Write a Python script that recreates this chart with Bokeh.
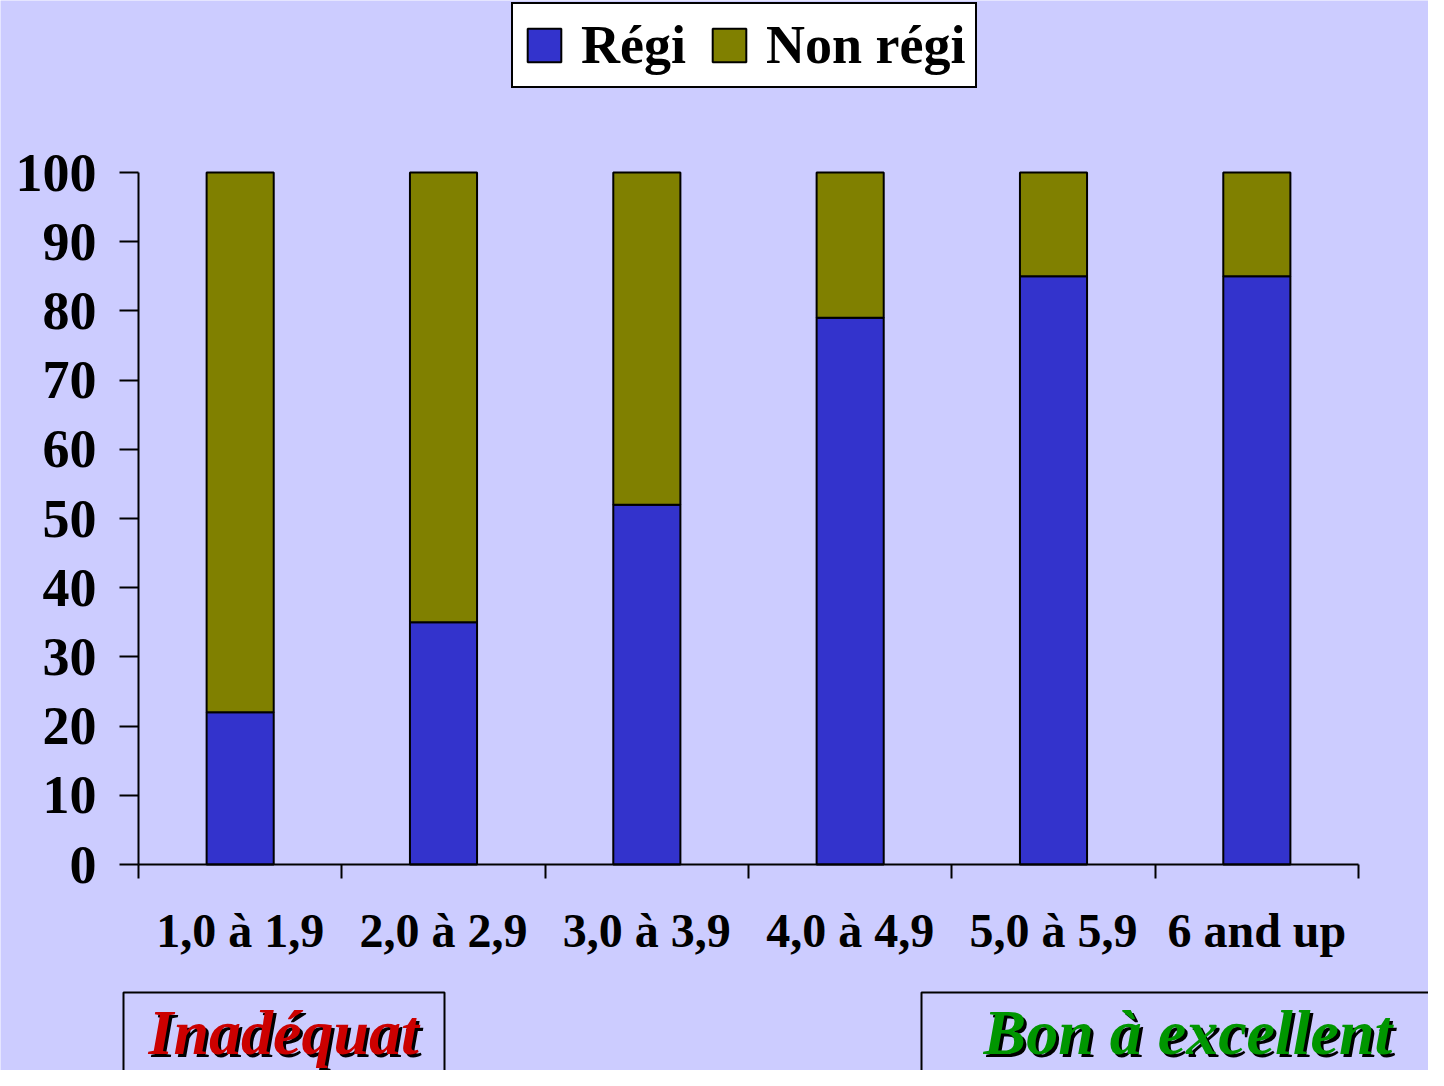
from bokeh.plotting import figure
from bokeh.models import (ColumnDataSource, Range1d, FixedTicker, Legend, LegendItem, Label)
from bokeh.embed import file_html
from bokeh.resources import INLINE

categories = ["1,0 à 1,9", "2,0 à 2,9", "3,0 à 3,9", "4,0 à 4,9", "5,0 à 5,9", "6 and up"]
regi = [22, 35, 52, 79, 85, 85]
non_regi = [78, 65, 48, 21, 15, 15]
series_names = ["Régi", "Non régi"]
y_ticks = [0, 10, 20, 30, 40, 50, 60, 70, 80, 90, 100]
box_texts = ["Inadéquat", "Bon à excellent"]

BG = "#CCCCFF"
BLUE = "#3333CC"
OLIVE = "#808000"
RED = "#CC0000"
GREEN = "#009600"
FONT = "Liberation Serif"

W, H = 1428, 1070
# pixel layout of the plotting area
PX_LEFT, PX_RIGHT, PX_TOP, PX_BOTTOM = 138, 1358, 172, 864

n = len(categories)
centers = [i + 0.5 for i in range(n)]
bounds = list(range(n + 1))

xu = (PX_RIGHT - PX_LEFT) / n
yu = (PX_BOTTOM - PX_TOP) / 100.0
x_range = Range1d(-PX_LEFT / xu, (W - PX_LEFT) / xu)
y_range = Range1d(-(H - PX_BOTTOM) / yu, PX_BOTTOM / yu)


def dx(px):
    return (px - PX_LEFT) / xu


def dy(py):
    return (PX_BOTTOM - py) / yu


source = ColumnDataSource(dict(x=centers, regi=regi, non_regi=non_regi))

p = figure(width=W, height=H, x_range=x_range, y_range=y_range,
           output_backend="svg", toolbar_location=None,
           min_border=0, min_border_left=0, min_border_right=0, min_border_top=0, min_border_bottom=0)
p.background_fill_color = BG
p.border_fill_color = BG
p.outline_line_color = None
p.xgrid.grid_line_color = None
p.ygrid.grid_line_color = None

rs = p.vbar_stack(["regi", "non_regi"], x="x", width=0.33, source=source,
                  color=[BLUE, OLIVE], line_color="black", line_width=2)
for r in rs:
    r.glyph.line_color = "black"

# x axis: labels at centers, tick marks at category boundaries
xa = p.xaxis[0]
xa.fixed_location = 0
xa.bounds = (0, n)
xa.ticker = FixedTicker(ticks=centers, minor_ticks=bounds)
xa.major_label_overrides = {c: lab for c, lab in zip(centers, categories)}
xa.major_tick_out = 0
xa.major_tick_in = 0
xa.major_tick_line_color = None
xa.minor_tick_out = 14
xa.minor_tick_in = 0
xa.minor_tick_line_width = 2
xa.minor_tick_line_color = "black"
xa.axis_line_width = 2
xa.axis_line_color = "black"
xa.major_label_text_font = FONT
xa.major_label_text_font_style = "bold"
xa.major_label_text_font_size = "48px"
xa.major_label_text_color = "black"
xa.major_label_standoff = 25

ya = p.yaxis[0]
ya.fixed_location = 0
ya.bounds = (0, 100)
ya.ticker = FixedTicker(ticks=y_ticks)
ya.major_tick_out = 19
ya.major_tick_in = 0
ya.minor_tick_out = 0
ya.minor_tick_in = 0
ya.major_tick_line_width = 2
ya.axis_line_width = 2
ya.axis_line_color = "black"
ya.major_tick_line_color = "black"
ya.major_label_text_font = FONT
ya.major_label_text_font_style = "bold"
ya.major_label_text_font_size = "54px"
ya.major_label_text_color = "black"
ya.major_label_standoff = 23

legend = Legend(items=[LegendItem(label=series_names[0], renderers=[rs[0]]),
                       LegendItem(label=series_names[1], renderers=[rs[1]])],
                orientation="horizontal", location=(511, H - 88),
                label_text_font=FONT, label_text_font_style="bold", label_text_font_size="54px",
                label_text_color="black",
                glyph_width=42, glyph_height=42, label_standoff=16, spacing=22, padding=10,
                margin=0, border_line_color="black", border_line_width=2, border_line_alpha=1.0,
                background_fill_color="white", background_fill_alpha=1.0)
p.add_layout(legend, "center")

# bottom boxes (outline frames) and shadowed italic texts
p.quad(left=[dx(123), dx(921)], right=[dx(444), dx(1500)],
       top=[dy(992), dy(992)], bottom=[dy(1120), dy(1120)],
       fill_color=BG, line_color="black", line_width=2)


def shadow_text(text, color, x, y):
    for off, col in ((3, "black"), (0, color)):
        p.add_layout(Label(x=x + off, y=y - off, x_units="screen", y_units="screen", text=text,
                           text_font=FONT, text_font_style="bold italic", text_font_size="64px",
                           text_color=col, text_align="left", text_baseline="alphabetic"))


shadow_text(box_texts[0], RED, 148, H - 1032)
shadow_text(box_texts[1], GREEN, 983, H - 1032)

open("out.html", "w").write(file_html(p, INLINE))
